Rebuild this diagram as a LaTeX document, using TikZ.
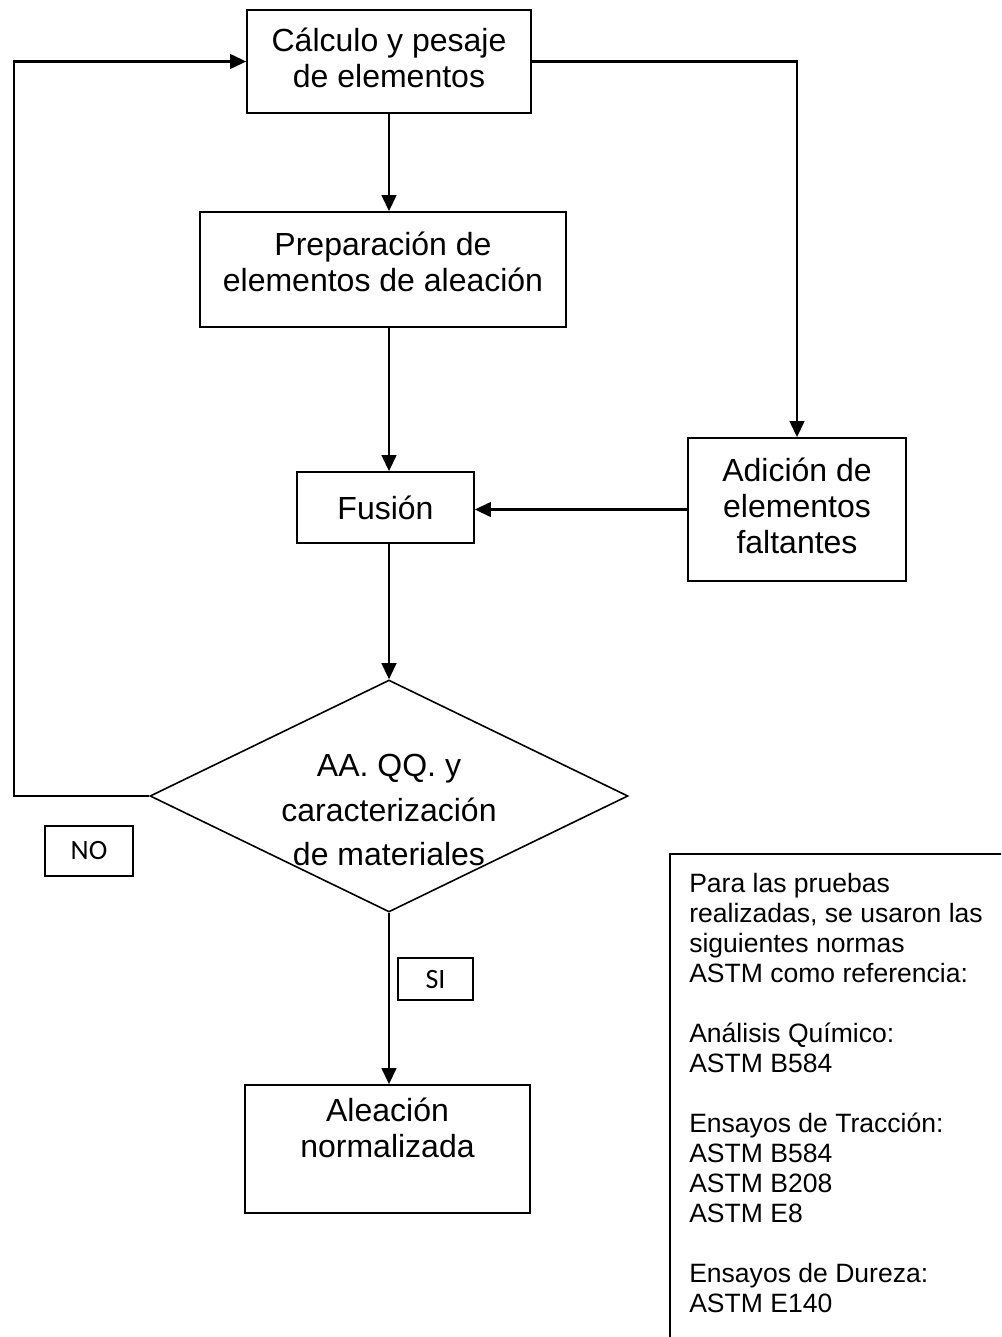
\documentclass[tikz,border=0pt]{standalone}
\usepackage{fontspec}
\setmainfont{Liberation Sans}
\newfontfamily\calib{Carlito}
\usetikzlibrary{shapes.geometric,arrows.meta}
\begin{document}
\begin{tikzpicture}[x=0.75pt,y=-0.75pt,
  box/.style={draw,line width=1.3pt,inner sep=0pt,align=center,font=\fontsize{24}{27}\selectfont},
  lbl/.style={draw,line width=1pt,inner sep=0pt,font=\calib\fontsize{21}{24}\selectfont},
  conn/.style={line width=1.7pt,-{Triangle[length=12pt,width=11pt]}}]
\useasboundingbox (0,0) rectangle (1001,1337);
\begin{scope}
\clip (0,0) rectangle (1001,1337);
\node[draw,line width=1.3pt,anchor=north west,minimum width=255.75pt,minimum height=369pt] (note) at (669,853) {};
\end{scope}
\node[anchor=north west,inner sep=0pt,align=left,font=\fontsize{19.9}{22.5}\selectfont] (notetext) at (689,873)
 {Para las pruebas\\realizadas, se usaron las\\siguientes normas\\ASTM como referencia:\\[22.5pt]
  Análisis Químico:\\ASTM B584\\[22.5pt]
  Ensayos de Tracción:\\ASTM B584\\ASTM B208\\ASTM E8\\[22.5pt]
  Ensayos de Dureza:\\ASTM E140};

\node[box,minimum width=213pt,minimum height=77.25pt,text depth=5pt] (b1) at (389,61.5) {Cálculo y pesaje\\de elementos};
\node[box,minimum width=274.5pt,minimum height=86.25pt,text depth=12pt] (b2) at (383,269.5) {Preparación de\\elementos de aleación};
\node[box,minimum width=132.75pt,minimum height=53.25pt] (b3) at (385.5,507.5) {Fusión};
\node[box,minimum width=163.5pt,minimum height=107.25pt,text depth=6pt] (b4) at (797,509.5) {Adición de\\elementos\\faltantes};
\node[draw,diamond,line width=1.2pt,inner sep=0pt,minimum width=358.5pt,minimum height=174pt] (dec) at (389,796) {};
\node[align=center,inner sep=0pt,font=\fontsize{24}{33.4}\selectfont] (dectext) at (389,810) {AA. QQ. y\\caracterización\\de materiales};
\node[box,minimum width=213.75pt,minimum height=96pt,text depth=31.5pt] (b5) at (387.5,1149) {Aleación\\normalizada};
\node[lbl,minimum width=66pt,minimum height=37.5pt] (no) at (89,851) {NO};
\node[lbl,minimum width=56.25pt,minimum height=31.5pt] (si) at (435.5,979) {SI};

\coordinate (lp) at (14,0);
\draw[conn] (b1.south) -- (b1.south |- b2.north);
\draw[conn] (b1.south |- b2.south) -- (b1.south |- b3.north);
\draw[conn] (b1.south |- b3.south) -- (dec.north);
\draw[conn] (dec.south) -- (b5.north -| dec.south);
\draw[conn] (dec.west) -- (dec.west -| lp) |- (b1.west);
\draw[conn] (b1.east) -| (b4.north);
\draw[conn] (b4.west) -- (b4.west -| b3.east);
\end{tikzpicture}
\end{document}
